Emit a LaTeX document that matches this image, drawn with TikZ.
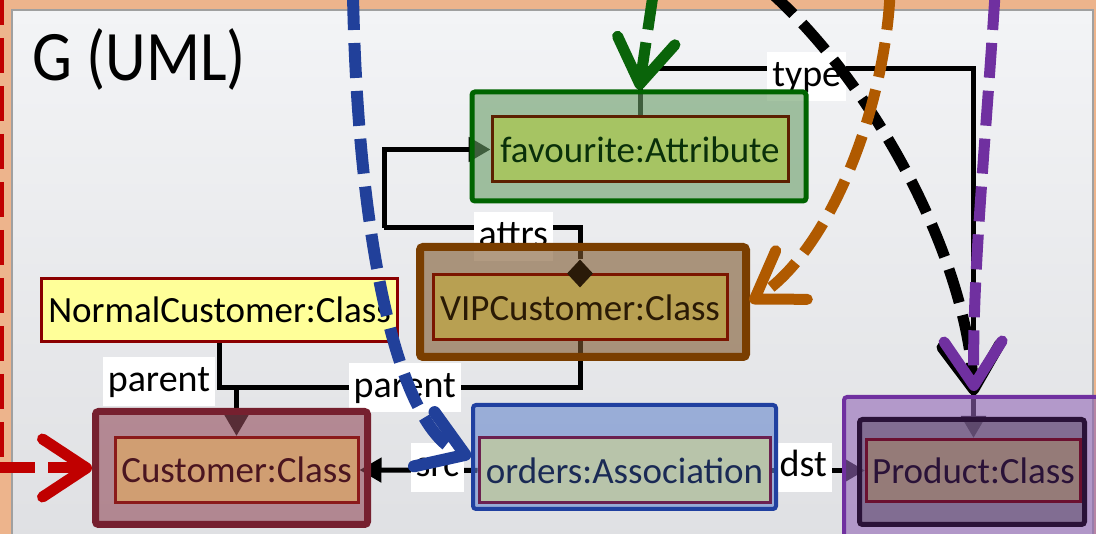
\documentclass[tikz,border=0pt]{standalone}
\usepackage{fontspec}
\usepackage{graphicx}
\setmainfont{Carlito}
\usetikzlibrary{arrows.meta,shapes.geometric}
\pgfdeclarelayer{bg}
\pgfdeclarelayer{conn}
\pgfsetlayers{bg,conn,main}
\definecolor{frameor}{RGB}{237,180,140}
\definecolor{panTop}{RGB}{243,244,246}
\definecolor{panBot}{RGB}{222,223,226}
\definecolor{panBd}{RGB}{160,160,160}
\definecolor{favOutD}{RGB}{0,100,0}
\definecolor{favOutF}{RGB}{105,157,103}
\definecolor{favInD}{RGB}{92,32,0}
\definecolor{favInF}{RGB}{166,196,99}
\definecolor{favTxt}{RGB}{10,48,10}
\definecolor{vipOutD}{RGB}{122,62,0}
\definecolor{vipOutF}{RGB}{127,89,48}
\definecolor{vipInD}{RGB}{123,21,0}
\definecolor{vipInF}{RGB}{184,160,82}
\definecolor{vipTxt}{RGB}{42,26,5}
\definecolor{normD}{RGB}{139,0,0}
\definecolor{normF}{RGB}{255,255,153}
\definecolor{custOutD}{RGB}{118,32,47}
\definecolor{custOutF}{RGB}{147,76,91}
\definecolor{custInD}{RGB}{139,26,26}
\definecolor{custInF}{RGB}{208,158,114}
\definecolor{custTxt}{RGB}{74,21,32}
\definecolor{ordOutD}{RGB}{32,64,160}
\definecolor{ordOutF}{RGB}{103,136,205}
\definecolor{ordInD}{RGB}{107,32,80}
\definecolor{ordInF}{RGB}{184,196,170}
\definecolor{ordTxt}{RGB}{26,42,85}
\definecolor{prodOutD}{RGB}{112,48,160}
\definecolor{prodOutF}{RGB}{147,103,183}
\definecolor{prodMidD}{RGB}{42,18,56}
\definecolor{prodMidF}{RGB}{98,81,110}
\definecolor{prodInD}{RGB}{107,16,48}
\definecolor{prodInF}{RGB}{149,123,120}
\definecolor{prodTxt}{RGB}{42,18,56}
\definecolor{mBlue}{RGB}{33,64,154}
\definecolor{mGreen}{RGB}{10,100,10}
\definecolor{mOrange}{RGB}{176,90,0}
\definecolor{mPurple}{RGB}{112,48,160}
\definecolor{mRed}{RGB}{192,0,0}
\definecolor{dmdC}{RGB}{42,26,8}
\begin{document}
\begin{tikzpicture}[x=1pt,y=-1pt,
  conn/.style={line width=5pt, draw=black},
  tipA/.style={-{Triangle[length=22pt,width=24pt]}},
  lbl/.style={fill=white, font=\fontsize{38}{40}\selectfont, inner xsep=5pt, inner ysep=6pt, text height=28pt, text depth=9pt},
  outbox/.style={draw, rounded corners=3pt, fill opacity=0.6},
  inbox/.style={draw, line width=3pt, font=\fontsize{37}{40}\selectfont, inner sep=0pt},
  maparrow/.style={line width=11pt, dash pattern=on 35pt off 13pt, -{Straight Barb[length=44pt,width=58pt,round]}}
]
\useasboundingbox (0,0) rectangle (1096,534);
\begin{pgfonlayer}{bg}
  \fill[frameor] (0,0) rectangle (1096,534);
  \shadedraw[top color=panTop, bottom color=panBot, draw=panBd, line width=1.5pt] (12,10) rectangle (1093,570);
\end{pgfonlayer}

% title
\node[anchor=base west, font=\fontsize{71}{80}\selectfont, inner sep=0pt] (title) at (32,81) {\scalebox{0.89}[1]{G (UML)}};

% outer boxes (translucent)
\node[outbox, draw=favOutD, fill=favOutF, line width=5pt, minimum width=334pt, minimum height=109pt] (favOut) at (639,146.5) {};
\node[outbox, draw=vipOutD, fill=vipOutF, line width=8pt, minimum width=326pt, minimum height=110pt] (vipOut) at (583,302) {};
\node[outbox, draw=custOutD, fill=custOutF, line width=7pt, minimum width=272pt, minimum height=113pt] (custOut) at (231.5,468) {};
\node[outbox, draw=ordOutD, fill=ordOutF, line width=4pt, minimum width=303pt, minimum height=104pt] (ordOut) at (624.5,457) {};
\node[outbox, draw=prodOutD, fill=prodOutF, line width=4pt, minimum width=260pt, minimum height=142pt] (prodOut) at (974,468) {};
\node[outbox, draw=prodMidD, fill=prodMidF, line width=5pt, minimum width=225pt, minimum height=105pt] (prodMid) at (972,472) {};

% inner boxes
\node[inbox, draw=favInD, fill=favInF, text=favTxt, minimum width=296pt, minimum height=65pt] (favIn) at (640,149.5) {favourite:Attribute};
\node[inbox, draw=vipInD, fill=vipInF, text=vipTxt, minimum width=294pt, minimum height=65pt] (vipIn) at (580,307.5) {VIPCustomer:Class};
\node[inbox, draw=normD, fill=normF, text=black, minimum width=356pt, minimum height=63pt] (normal) at (219.5,310) {NormalCustomer:Class};
\node[inbox, draw=custInD, fill=custInF, text=custTxt, minimum width=243pt, minimum height=65pt] (custIn) at (236.5,470) {Customer:Class};
\node[inbox, draw=ordInD, fill=ordInF, text=ordTxt, minimum width=291pt, minimum height=65pt] (ordIn) at (624.5,470.5) {orders:Association};
\node[inbox, draw=prodInD, fill=prodInF, text=prodTxt, minimum width=214pt, minimum height=62pt] (prodIn) at (973.5,470.5) {Product:Class};

\node[diamond, fill=dmdC, inner sep=0pt, minimum width=26pt, minimum height=28pt] (dmd) at (vipIn.north) {};

\coordinate (tc) at (640,69);
\coordinate (ac) at (384,228);
\coordinate (pj) at (236.5,388);

% connectors (beneath the translucent boxes)
\begin{pgfonlayer}{conn}
  \draw[conn, tipA] (favIn.north) -- (tc) -| node[lbl, pos=0.25, yshift=-8pt] {type} (prodIn.north);
  \draw[conn] (dmd.north) |- node[lbl, pos=0.67, yshift=-9pt] {attrs} (ac);
  \draw[conn, tipA] (ac) |- (favIn.west);
  \draw[conn, tipA] (normal.south) |- node[lbl, pos=0.43, anchor=east, xshift=-2pt] {parent} (pj) -- (custIn.north);
  \draw[conn] (vipIn.south) |- node[lbl, pos=0.755] {parent} (pj);
  \draw[conn, tipA] (ordIn.west) -- node[lbl, pos=0.34, yshift=3pt] {src} (custIn.east);
  \draw[conn, tipA] (ordIn.east) -- node[lbl, pos=0.34, yshift=3pt] {dst} (prodIn.west);
\end{pgfonlayer}

% mapping arrows
\coordinate (sBlue) at (353,-5);
\coordinate (sGreen) at (653,-5);
\coordinate (sBlack) at (768,-10);
\coordinate (sOrange) at (890,-5);
\coordinate (sPurple) at (995,-5);
\coordinate (sRed) at (-2,-10);
\draw[maparrow, draw=mBlue, line width=12pt] (sBlue) .. controls (358,250) and (400,430) .. (ordOut.west);
\draw[maparrow, draw=mGreen] (sGreen) -- (favOut.north);
\draw[maparrow, draw=black] (sBlack) .. controls (870,80) and (965,250) .. (prodOut.north);
\draw[maparrow, draw=mOrange] (sOrange) .. controls (884,110) and (830,250) .. (vipOut.east);
\draw[maparrow, draw=mPurple] (sPurple) .. controls (985,150) and (972,280) .. ([yshift=4pt]prodOut.north);
\draw[maparrow, draw=mRed] (sRed) |- (custOut.west);
\end{tikzpicture}
\end{document}
